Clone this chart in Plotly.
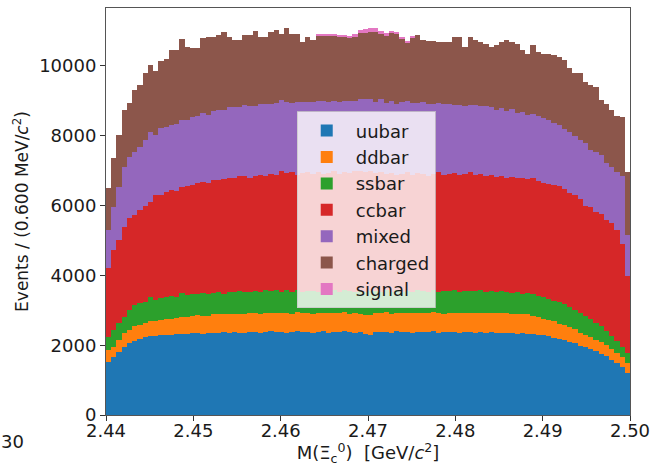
import plotly.graph_objects as go

# histogram binning: 100 bins of 0.6 MeV from 2.44 to 2.50 GeV
bin_lo = 2.44
bin_w = 0.0006
n_bins = 100

uubar = [1530, 1670, 1810, 1960, 2060, 2130, 2170, 2230, 2250, 2270,
         2280, 2300, 2290, 2310, 2330, 2320, 2340, 2350, 2330, 2350,
         2360, 2340, 2370, 2350, 2380, 2360, 2350, 2390, 2370, 2360,
         2380, 2400, 2370, 2390, 2360, 2380, 2400, 2370, 2390, 2350,
         2380, 2400, 2360, 2390, 2370, 2400, 2380, 2360, 2390, 2330,
         2300, 2370, 2390, 2380, 2360, 2400, 2370, 2390, 2360, 2380,
         2390, 2370, 2400, 2360, 2380, 2370, 2390, 2350, 2380, 2370,
         2360, 2380, 2350, 2370, 2340, 2360, 2340, 2350, 2330, 2340,
         2330, 2310, 2300, 2280, 2250, 2220, 2180, 2150, 2100, 2050,
         1980, 1940, 1880, 1820, 1750, 1680, 1580, 1480, 1380, 1210]

ddbar = [330, 290, 340, 390, 380, 420, 410, 420, 430, 420,
         440, 450, 470, 460, 480, 500, 490, 520, 510, 500,
         520, 540, 510, 540, 520, 530, 550, 520, 540, 530,
         550, 530, 560, 540, 550, 520, 540, 560, 530, 550,
         540, 520, 560, 530, 550, 540, 520, 550, 510, 540,
         560, 550, 530, 560, 540, 520, 560, 530, 550, 540,
         530, 560, 540, 550, 520, 560, 540, 570, 530, 550,
         560, 540, 570, 550, 580, 560, 570, 550, 560, 540,
         560, 540, 520, 480, 470, 460, 440, 430, 420, 400,
         370, 360, 350, 340, 330, 320, 300, 290, 280, 280]

ssbar = [380, 470, 480, 470, 570, 600, 620, 600, 700, 600,
         640, 620, 650, 600, 680, 620, 640, 610, 660, 630,
         620, 650, 600, 640, 610, 660, 630, 600, 650, 620,
         640, 610, 650, 600, 660, 620, 640, 590, 630, 650,
         600, 640, 620, 660, 610, 630, 650, 620, 640, 660,
         680, 620, 600, 640, 620, 650, 600, 640, 620, 650,
         630, 600, 650, 620, 660, 610, 640, 600, 650, 630,
         620, 650, 600, 640, 610, 630, 620, 600, 620, 600,
         610, 620, 600, 620, 610, 600, 620, 590, 580, 570,
         570, 550, 520, 490, 460, 420, 380, 350, 300, 280]

ccbar = [1970, 2290, 2380, 2570, 2630, 2580, 2670, 2730, 2720, 3010,
         2940, 3010, 3040, 3060, 3040, 3120, 3130, 3160, 3180, 3170,
         3220, 3210, 3280, 3250, 3270, 3290, 3320, 3290, 3300, 3370,
         3280, 3360, 3300, 3470, 3350, 3430, 3300, 3400, 3400, 3360,
         3440, 3340, 3390, 3400, 3370, 3380, 3370, 3450, 3460, 3420,
         3440, 3380, 3430, 3320, 3410, 3310, 3370, 3390, 3350, 3350,
         3350, 3330, 3310, 3420, 3320, 3370, 3360, 3350, 3340, 3400,
         3350, 3330, 3340, 3320, 3290, 3300, 3270, 3330, 3270, 3320,
         3250, 3310, 3280, 3280, 3290, 3300, 3310, 3310, 3270, 3280,
         3260, 3150, 3200, 3180, 3210, 3180, 3240, 3180, 2940, 2210]

mixed = [1090, 1240, 1520, 1710, 1750, 1800, 1810, 1900, 2010, 1720,
         1920, 1870, 1850, 1900, 1920, 1880, 1950, 1930, 1970, 1950,
         1980, 2010, 1970, 2030, 2050, 1990, 2020, 2060, 2000, 2040,
         2050, 2010, 2070, 2030, 2060, 1990, 2080, 2040, 2010, 2060,
         2040, 2090, 2030, 2010, 2070, 2040, 2080, 2020, 2060, 2110,
         2080, 2050, 2090, 2030, 2060, 2020, 2070, 2040, 2050, 2030,
         2070, 2050, 2010, 1990, 2040, 2000, 1960, 2010, 1960, 1940,
         1980, 1960, 1990, 1930, 1920, 1950, 1900, 1930, 1880, 1870,
         1850, 1830, 1870, 1840, 1830, 1790, 1760, 1710, 1740, 1680,
         1700, 1780, 1640, 1700, 1710, 1620, 1600, 1650, 1960, 1180]

charged = [1200, 1390, 1490, 1640, 1550, 1770, 1770, 1920, 1920, 1840,
           1920, 1950, 2160, 2130, 2310, 2100, 1970, 1930, 2160, 2230,
           2140, 2140, 2240, 2020, 1920, 1920, 2020, 2030, 2140, 1910,
           1930, 2070, 2080, 1890, 2110, 1980, 1960, 1730, 1870, 1780,
           1870, 1880, 1920, 1870, 1870, 1840, 1800, 1840, 1870, 1880,
           1920, 2000, 1870, 1940, 1960, 2040, 1830, 1680, 1880, 1950,
           1780, 1810, 1810, 1750, 1770, 1780, 1940, 1950, 1680, 1940,
           1880, 1830, 1790, 1730, 1860, 1890, 2050, 1930, 1980, 1790,
           1750, 1990, 1830, 1830, 1900, 1940, 1940, 1980, 1830, 1820,
           1920, 1760, 1850, 1870, 1560, 1680, 1650, 1610, 1680, 1810]

signal = [0] * 40 + [20, 30, 40, 40, 40, 50, 60, 80, 100, 120,
                     120, 110, 90, 70, 50, 40, 30, 20, 20] + [0] * 41

series = [("uubar", uubar, "#1f77b4"), ("ddbar", ddbar, "#ff7f0e"),
          ("ssbar", ssbar, "#2ca02c"), ("ccbar", ccbar, "#d62728"),
          ("mixed", mixed, "#9467bd"), ("charged", charged, "#8c564b"),
          ("signal", signal, "#e377c2")]

x_ticks = [2.44, 2.45, 2.46, 2.47, 2.48, 2.49, 2.50]
y_ticks = [0, 2000, 4000, 6000, 8000, 10000]

centers = [bin_lo + bin_w * (i + 0.5) for i in range(n_bins)]

FONT = "DejaVu Sans"
TXT = "#1a1a1a"

fig = go.Figure()
for name, vals, col in series:
    fig.add_trace(go.Bar(x=centers, y=vals, width=bin_w, name=name,
                         legendgroup=name,
                         marker=dict(color=col, line=dict(width=0))))

axis_common = dict(showgrid=False, zeroline=False, showline=True, mirror=True,
                   linecolor="#555555", linewidth=1, ticks="outside",
                   ticklen=5, tickwidth=1, tickcolor="#333333", automargin=False,
                   tickfont=dict(family=FONT, size=18, color=TXT))

fig.update_layout(
    width=652, height=466,
    margin=dict(l=106, r=22, t=8, b=51),
    paper_bgcolor="white", plot_bgcolor="white",
    barmode="stack", bargap=0,
    font=dict(family=FONT, size=18, color=TXT),
    xaxis=dict(range=[2.44, 2.50], tickvals=x_ticks,
               ticktext=[f"{v:.2f}" for v in x_ticks],
               ticklabelstandoff=-6,
               title=dict(text="M(Ξ<sub>c</sub><sup>0</sup>)  [GeV/<i>c</i><sup>2</sup>]",
                          font=dict(family=FONT, size=18, color=TXT), standoff=2),
               **axis_common),
    yaxis=dict(range=[0, 11660], tickvals=y_ticks,
               ticktext=[str(v) for v in y_ticks],
               title=dict(text="Events / (0.600 MeV/<i>c</i><sup>2</sup>)",
                          font=dict(family=FONT, size=17, color=TXT), standoff=6),
               **axis_common),
    legend=dict(x=0.364, y=0.746, xanchor="left", yanchor="top",
                bgcolor="rgba(255,255,255,0.8)", bordercolor="rgba(200,200,200,0.8)",
                borderwidth=1, font=dict(family=FONT, size=18, color=TXT),
                traceorder="normal", itemwidth=48, tracegroupgap=4),
    annotations=[dict(text="30", x=-0.179, y=-0.066, xref="paper", yref="paper",
                      xanchor="center", yanchor="middle", showarrow=False,
                      font=dict(family=FONT, size=18, color=TXT))],
)

fig.write_html("out.html")
